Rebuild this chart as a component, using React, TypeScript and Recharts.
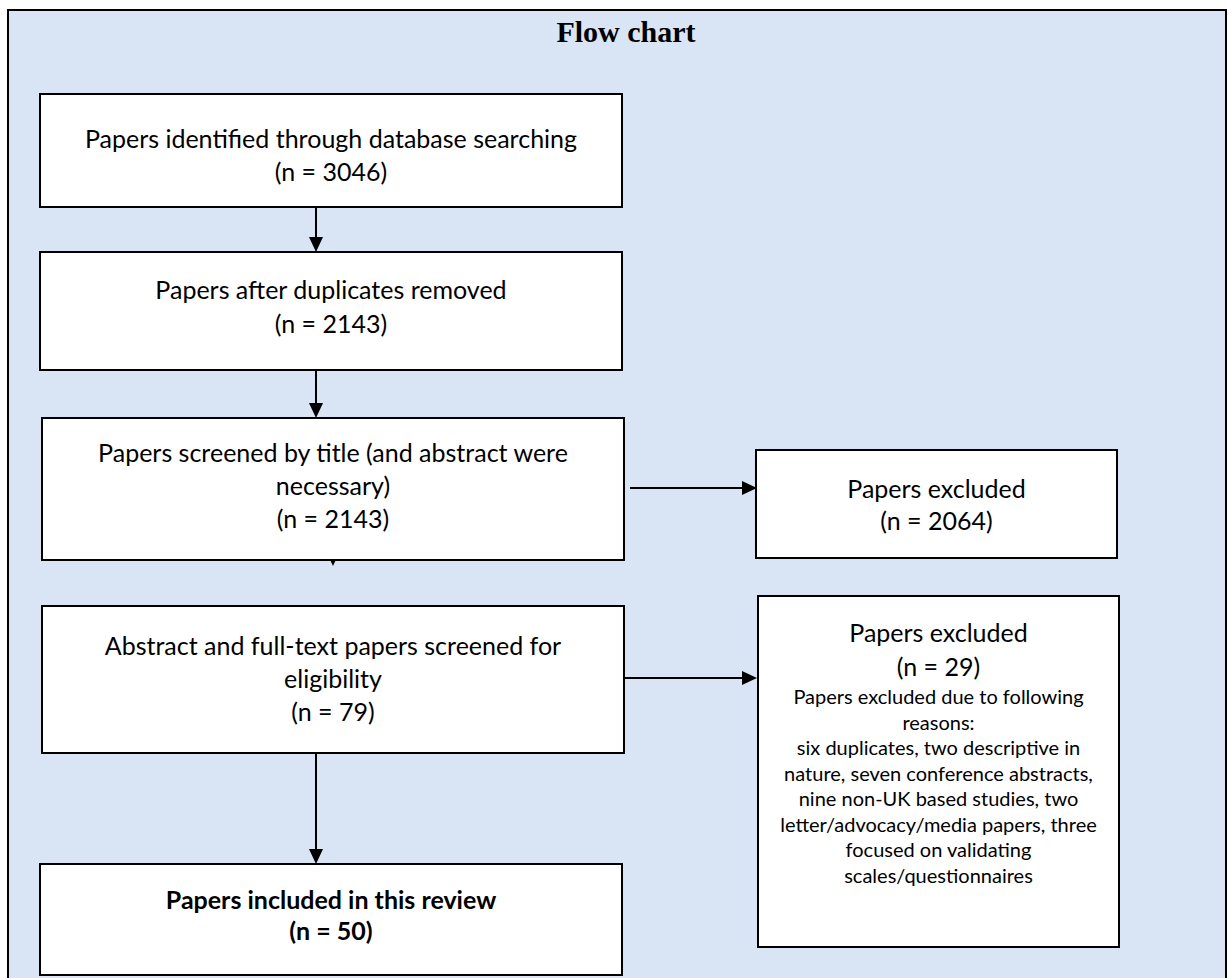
import { ScatterChart, Scatter, XAxis, YAxis, ReferenceArea, ReferenceLine } from "recharts";

const W = 1229;
const H = 978;

// flow content
const chartTitle = "Flow chart";
const stageTitles = [
  ["Papers identified through database searching"],
  ["Papers after duplicates removed"],
  ["Papers screened by title (and abstract were", "necessary)"],
  ["Abstract and full-text papers screened for", "eligibility"],
  ["Papers included in this review"],
];
const stageCounts = [3046, 2143, 2143, 79, 50];
const excludedTitles = ["Papers excluded", "Papers excluded"];
const excludedCounts = [2064, 29];
const excludedReasons = [
  "Papers excluded due to following",
  "reasons:",
  "six duplicates, two descriptive in",
  "nature, seven conference abstracts,",
  "nine non-UK based studies, two",
  "letter/advocacy/media papers, three",
  "focused on validating",
  "scales/questionnaires",
];

// layout (page pixels, used as data units of the hidden axes)
const stageBoxes = [
  { x1: 40, x2: 622, y1: 94, y2: 207, text: 148, gap: 33 },
  { x1: 40, x2: 622, y1: 252, y2: 370, text: 299, gap: 34 },
  { x1: 42, x2: 624, y1: 418, y2: 560, text: 462, gap: 33 },
  { x1: 42, x2: 624, y1: 606, y2: 753, text: 655, gap: 33 },
  { x1: 40, x2: 622, y1: 864, y2: 975, text: 909, gap: 31 },
];
const sideBoxes = [
  { x1: 756, x2: 1117, y1: 450, y2: 558, text: 498, gap: 32 },
  { x1: 758, x2: 1119, y1: 596, y2: 947, text: 642, gap: 34 },
];
const downArrows = [
  { x: 316, y1: 207, y2: 252 },
  { x: 316, y1: 370, y2: 418 },
  { x: 316, y1: 753, y2: 864 },
];
const rightArrows = [
  { y: 488, x1: 630, x2: 757 },
  { y: 678, x1: 624, x2: 757 },
];

const REASON_LINE = 25.5;
const FONT = "Lato, 'Noto Sans', sans-serif";

type TextPoint = { x: number; y: number; text: string; size: number; bold?: boolean; family?: string };

const texts: TextPoint[] = [];
texts.push({ x: 626, y: 42, text: chartTitle, size: 30, bold: true, family: "'Liberation Serif', 'Times New Roman', serif" });
stageBoxes.forEach((b, i) => {
  const cx = (b.x1 + b.x2) / 2;
  const bold = i === stageBoxes.length - 1;
  stageTitles[i].forEach((t, k) => texts.push({ x: cx, y: b.text + k * b.gap, text: t, size: 25, bold }));
  texts.push({ x: cx, y: b.text + stageTitles[i].length * b.gap, text: `(n = ${stageCounts[i]})`, size: 25, bold });
});
sideBoxes.forEach((b, i) => {
  const cx = (b.x1 + b.x2) / 2;
  texts.push({ x: cx, y: b.text, text: excludedTitles[i], size: 25 });
  texts.push({ x: cx, y: b.text + b.gap, text: `(n = ${excludedCounts[i]})`, size: 25 });
  if (i === 1) {
    excludedReasons.forEach((t, k) =>
      texts.push({ x: cx, y: b.text + 62 + k * REASON_LINE, text: t, size: 20 })
    );
  }
});

const heads = [
  ...downArrows.map((a) => ({ x: a.x, y: a.y2, dir: "down", s: 1 })),
  ...rightArrows.map((a) => ({ x: a.x2, y: a.y, dir: "right", s: 1 })),
  { x: 333, y: 566, dir: "down", s: 0.45 },
];

const TextShape = (props: any) => {
  const p = props.payload as TextPoint;
  return (
    <text
      x={props.cx}
      y={props.cy}
      textAnchor="middle"
      fontSize={p.size}
      fontWeight={p.bold ? 700 : 400}
      fontFamily={p.family ?? FONT}
      fill="#000"
    >
      {p.text}
    </text>
  );
};

const HeadShape = (props: any) => {
  const { cx, cy } = props;
  const s = props.payload.s;
  const len = 15 * s;
  const half = 7 * s;
  const pts =
    props.payload.dir === "down"
      ? `${cx - half},${cy - len} ${cx + half},${cy - len} ${cx},${cy}`
      : `${cx - len},${cy - half} ${cx - len},${cy + half} ${cx},${cy}`;
  return <polygon points={pts} fill="#000" />;
};

export default function App() {
  return (
    <div style={{ position: "absolute", left: 0, top: 0, background: "#fff" }}>
      <ScatterChart width={W} height={H} margin={{ top: 0, right: 0, bottom: 0, left: 0 }}>
        <XAxis type="number" dataKey="x" domain={[0, W]} hide allowDataOverflow />
        <YAxis type="number" dataKey="y" domain={[0, H]} reversed hide allowDataOverflow />
        <ReferenceArea
          x1={8}
          x2={1226}
          y1={10}
          y2={990}
          ifOverflow="visible"
          fill="#d9e5f4"
          fillOpacity={1}
          stroke="#000"
          strokeWidth={2}
        />
        {[...stageBoxes, ...sideBoxes].map((b, i) => (
          <ReferenceArea
            key={`box-${i}`}
            x1={b.x1}
            x2={b.x2}
            y1={b.y1}
            y2={b.y2}
            fill="#fff"
            fillOpacity={1}
            stroke="#000"
            strokeWidth={2}
          />
        ))}
        {downArrows.map((a, i) => (
          <ReferenceLine
            key={`d-${i}`}
            segment={[
              { x: a.x, y: a.y1 },
              { x: a.x, y: a.y2 - 10 },
            ]}
            stroke="#000"
            strokeWidth={2}
          />
        ))}
        {rightArrows.map((a, i) => (
          <ReferenceLine
            key={`r-${i}`}
            segment={[
              { x: a.x1, y: a.y },
              { x: a.x2 - 10, y: a.y },
            ]}
            stroke="#000"
            strokeWidth={2}
          />
        ))}
        <Scatter data={heads} shape={HeadShape} isAnimationActive={false} />
        <Scatter data={texts} shape={TextShape} isAnimationActive={false} />
      </ScatterChart>
    </div>
  );
}
